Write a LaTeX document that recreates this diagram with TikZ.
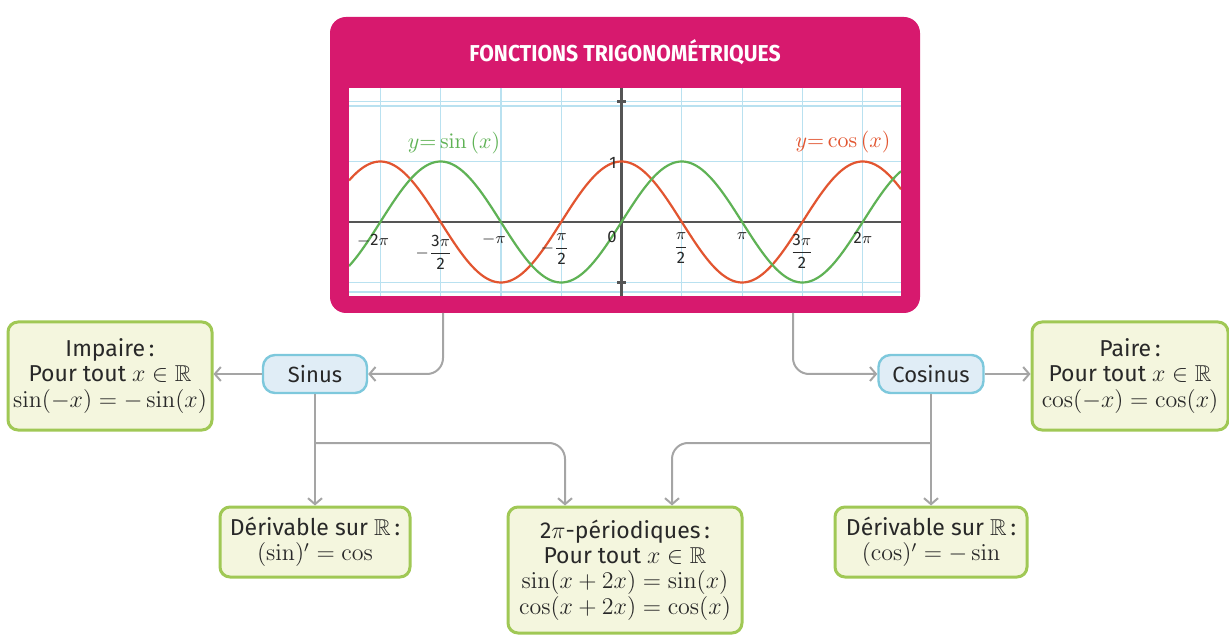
\documentclass[tikz,border=0pt]{standalone}
\usepackage{amsmath,amssymb}
\usepackage{graphicx}
\usepackage[no-math]{fontspec}
\setmainfont{Fira Sans}
\usetikzlibrary{arrows.meta,calc}
\definecolor{mag}{RGB}{215,25,110}
\definecolor{gfill}{RGB}{244,246,222}
\definecolor{gborder}{RGB}{160,200,85}
\definecolor{bfill}{RGB}{224,237,246}
\definecolor{bborder}{RGB}{125,200,220}
\definecolor{conncol}{RGB}{165,165,165}
\definecolor{gridc}{RGB}{185,225,240}
\definecolor{sincol}{RGB}{95,178,85}
\definecolor{coscol}{RGB}{226,85,48}
\definecolor{axiscol}{RGB}{85,85,85}
\definecolor{txt}{RGB}{40,40,40}
\tikzset{
  greenbox/.style={draw=gborder, line width=1.5pt, fill=gfill, rounded corners=5pt,
    align=center, text=txt, inner sep=0pt, font=\fontsize{11.5}{12.6}\selectfont},
  bluebox/.style={draw=bborder, line width=1.2pt, fill=bfill, rounded corners=6pt,
    text=txt, inner sep=0pt, minimum height=19pt, font=\fontsize{11}{12}\selectfont},
  conn/.style={draw=conncol, line width=1pt, -{Straight Barb[length=3pt,width=7pt]}},
  gridline/.style={draw=gridc, line width=0.6pt},
  ticklab/.style={text=txt, inner sep=0pt, font=\fontsize{8.3}{8.5}\selectfont},
}
\begin{document}
\begin{tikzpicture}[x=0.5pt,y=-0.5pt]
\useasboundingbox (0,0) rectangle (1229,635);
% main magenta panel
\node[fill=mag, rounded corners=8pt, minimum width=295pt, minimum height=148pt, inner sep=0pt] (main) at (625,165) {};
\node[text=white, font=\fontsize{11.5}{11.5}\selectfont\bfseries] (title) at (625,52) {\scalebox{0.92}[1]{FONCTIONS TRIGONOMÉTRIQUES}};
% graph
\begin{scope}
\fill[white] (349,88) rectangle (901,296);
\clip (349,88) rectangle (901,296);
\foreach \k in {-4,-3,-2,-1,1,2,3,4} \draw[gridline] ({621.5+\k*60.3},88) -- ({621.5+\k*60.3},296);
\foreach \yy in {101.5,106,161.5,282.5,292} \draw[gridline] (349,\yy) -- (901,\yy);
\draw[axiscol, line width=1.1pt] (349,222) -- (901,222);
\draw[axiscol, line width=1.1pt] (621.5,88) -- (621.5,296);
\draw[axiscol, line width=1.1pt] (617,101.5) -- (626,101.5);
\draw[axiscol, line width=1.1pt] (617,282.5) -- (626,282.5);
\draw[coscol, line width=1.1pt] plot[domain=349:901, samples=220, smooth] (\x, {222-60.5*cos((\x-621.5)/60.3*90)});
\draw[sincol, line width=1.1pt] plot[domain=349:901, samples=220, smooth] (\x, {222-60.5*sin((\x-621.5)/60.3*90)});
\end{scope}
\node[text=sincol, inner sep=0pt, font=\fontsize{11}{11}\selectfont] (lsin) at (454,143) {$y{=}\sin\,(x)$};
\node[text=coscol, inner sep=0pt, font=\fontsize{11}{11}\selectfont] (lcos) at (843,142) {$y{=}\cos\,(x)$};
% tick labels
\node[ticklab] (t1) at (373,241) {$-$2$\pi$};
\node[ticklab] (t2) at (434,252) {$-\dfrac{\mbox{3}\pi}{\mbox{2}}$};
\node[ticklab] (t3) at (494,240) {$-\pi$};
\node[ticklab] (t4) at (555,249) {$-\dfrac{\pi}{\mbox{2}}$};
\node[ticklab] (t5) at (612,237) {0};
\node[ticklab] (t6) at (613,163) {1};
\node[ticklab] (t7) at (681,248) {$\dfrac{\pi}{\mbox{2}}$};
\node[ticklab] (t8) at (742,236) {$\pi$};
\node[ticklab] (t9) at (802,251) {$\dfrac{\mbox{3}\pi}{\mbox{2}}$};
\node[ticklab] (t10) at (863,238) {2$\pi$};
% boxes
\node[bluebox, minimum width=52pt] (sinus) at (315,374) {Sinus};
\node[bluebox, minimum width=52.5pt] (cosinus) at (931,374) {Cosinus};
\node[greenbox, minimum width=102pt, minimum height=54pt] (impaire) at (110,376) {Impaire\,:\\Pour tout $x\in\mathbb{R}$\\$\sin(-x)=-\sin(x)$};
\node[greenbox, minimum width=98pt, minimum height=54pt] (paire) at (1130,376) {Paire\,:\\Pour tout $x\in\mathbb{R}$\\$\cos(-x)=\cos(x)$};
\node[greenbox, minimum width=95pt, minimum height=35pt] (dsin) at (315,542) {Dérivable sur $\mathbb{R}$\,:\\$(\sin)'=\cos$};
\node[greenbox, minimum width=117pt, minimum height=63pt] (period) at (625,570) {2$\pi$-périodiques\,:\\Pour tout $x\in\mathbb{R}$\\$\sin(x+2x)=\sin(x)$\\$\cos(x+2x)=\cos(x)$};
\node[greenbox, minimum width=96pt, minimum height=35pt] (dcos) at (931,542) {Dérivable sur $\mathbb{R}$\,:\\$(\cos)'=-\sin$};
% connectors
\coordinate (s1) at (443,313);
\coordinate (c1) at (793,313);
\coordinate (j1) at (315,443);
\coordinate (j2) at (931,443);
\draw[conn, rounded corners=8pt] (s1) |- (sinus.east);
\draw[conn, rounded corners=8pt] (c1) |- (cosinus.west);
\draw[conn] (sinus.west) -- (sinus.west -| impaire.east);
\draw[conn] (cosinus.east) -- (cosinus.east -| paire.west);
\draw[conn] (sinus.south) -- (dsin.north);
\draw[conn] (cosinus.south) -- (dcos.north);
\draw[conn, rounded corners=8pt] (j1) -| ($(period.north)+(-60,0)$);
\draw[conn, rounded corners=8pt] (j2) -| ($(period.north)+(47,0)$);
\end{tikzpicture}
\end{document}
